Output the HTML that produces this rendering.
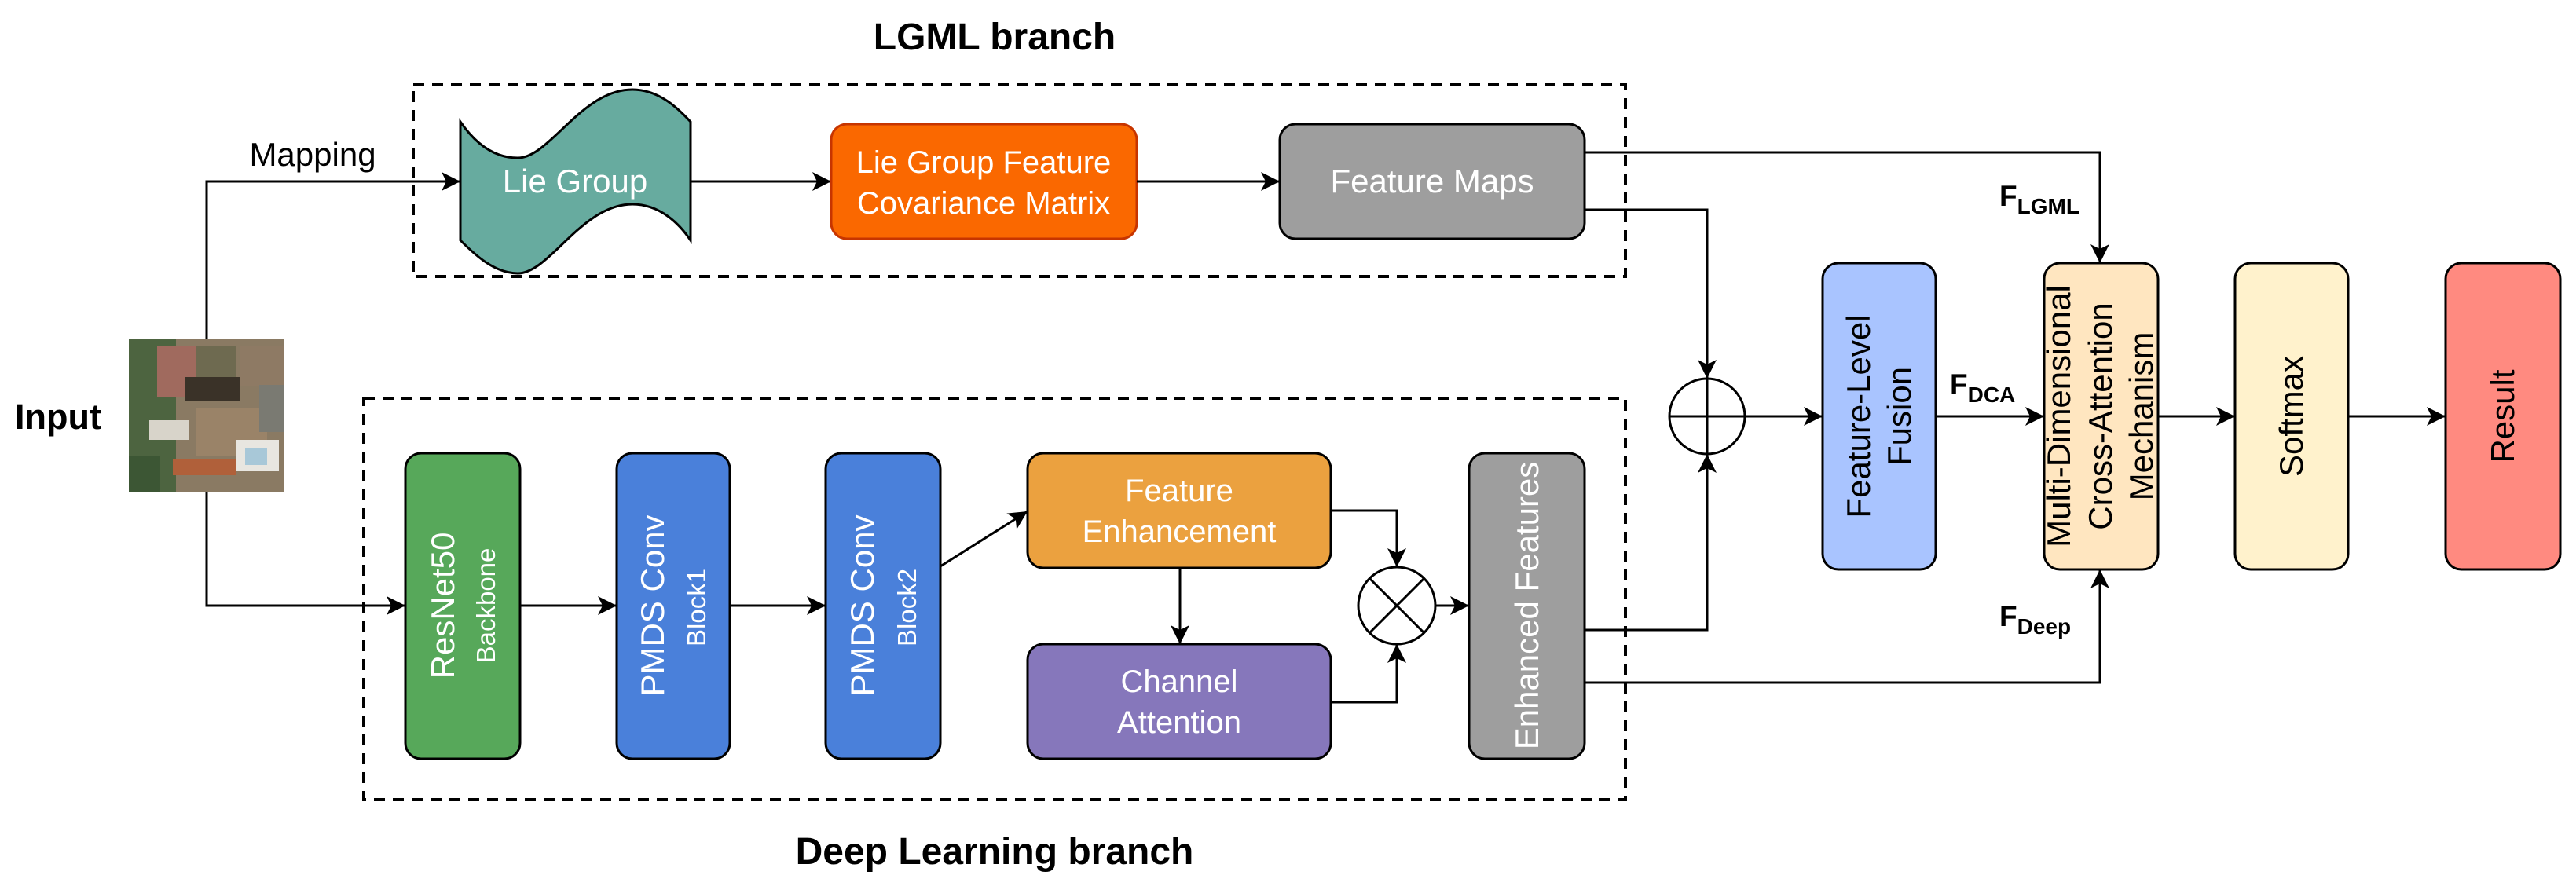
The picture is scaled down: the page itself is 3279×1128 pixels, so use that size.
<!DOCTYPE html>
<html><head><meta charset="utf-8"><style>
html,body{margin:0;padding:0;background:#fff}
svg{display:block}
text{font-family:"Liberation Sans",Arial,sans-serif}
</style></head><body>
<svg width="3279" height="1128" viewBox="0 0 3279 1128" xmlns="http://www.w3.org/2000/svg">
<defs>
<marker id="a" markerUnits="userSpaceOnUse" markerWidth="30" markerHeight="30" refX="24" refY="12" orient="auto">
<path d="M0,0 L24,12 L0,24 L6,12 Z" fill="#000"/>
</marker>
</defs>
<!-- Titles -->
<text x="1266" y="63" font-size="48" font-weight="bold" text-anchor="middle">LGML branch</text>
<text x="1266" y="1100" font-size="48" font-weight="bold" text-anchor="middle">Deep Learning branch</text>
<text x="74" y="546" font-size="45" font-weight="bold" text-anchor="middle">Input</text>
<text x="398" y="211" font-size="42" text-anchor="middle">Mapping</text>

<!-- dashed boxes -->
<rect x="526" y="108" width="1543" height="244" fill="none" stroke="#000" stroke-width="4" stroke-dasharray="14,10"/>
<rect x="463" y="507" width="1606" height="511" fill="none" stroke="#000" stroke-width="4" stroke-dasharray="14,10"/>

<!-- input image -->
<g>
<rect x="164" y="431" width="197" height="196" fill="#8a7a63"/>
<rect x="164" y="431" width="60" height="196" fill="#4d6440"/>
<rect x="200" y="441" width="55" height="65" fill="#a06a5e"/>
<rect x="250" y="441" width="50" height="45" fill="#6e6a50"/>
<rect x="305" y="441" width="56" height="50" fill="#8e7a64"/>
<rect x="235" y="480" width="70" height="30" fill="#3a3228"/>
<rect x="190" y="535" width="50" height="25" fill="#d8d4ca"/>
<rect x="250" y="520" width="90" height="60" fill="#9a8368"/>
<rect x="300" y="560" width="55" height="40" fill="#e8e6e0"/>
<rect x="312" y="570" width="28" height="22" fill="#a8c8d8"/>
<rect x="220" y="585" width="80" height="20" fill="#b0603a"/>
<rect x="164" y="580" width="40" height="47" fill="#3c5634"/>
<rect x="330" y="490" width="31" height="60" fill="#7a7a72"/>
</g>

<path d="M263,431 V231 H586" fill="none" stroke="#000" stroke-width="3" marker-end="url(#a)"/>
<path d="M263,627 V771 H516" fill="none" stroke="#000" stroke-width="3" marker-end="url(#a)"/>

<path d="M586,155 C610,190 635,201 659,201 C700,201 740,114 805,114 C840,114 865,140 879,155 L879,306 C865,285 840,260 805,260 C740,260 700,348 659,348 C630,348 605,325 586,306 Z" fill="#67AB9F" stroke="#000" stroke-width="3"/>
<text x="732" y="245" font-size="42" fill="#fff" text-anchor="middle">Lie Group</text>
<path d="M879,231 H1058" fill="none" stroke="#000" stroke-width="3" marker-end="url(#a)"/>

<rect x="1058" y="158" width="389" height="146" rx="20" fill="#FA6800" stroke="#C73500" stroke-width="3"/>
<text x="1252" y="220" font-size="40" fill="#fff" text-anchor="middle">Lie Group Feature</text>
<text x="1252" y="272" font-size="40" fill="#fff" text-anchor="middle">Covariance Matrix</text>
<path d="M1447,231 H1629" fill="none" stroke="#000" stroke-width="3" marker-end="url(#a)"/>

<rect x="1629" y="158" width="388" height="146" rx="20" fill="#9E9E9E" stroke="#000" stroke-width="3"/>
<text x="1823" y="245" font-size="42" fill="#fff" text-anchor="middle">Feature Maps</text>

<rect x="516" y="577" width="146" height="389" rx="20" fill="#57A85A" stroke="#000" stroke-width="3"/>
<text transform="translate(578,771) rotate(-90)" font-size="42" fill="#fff" text-anchor="middle">ResNet50</text>
<text transform="translate(630,771) rotate(-90)" font-size="33" fill="#fff" text-anchor="middle">Backbone</text>
<path d="M662,771 H785" fill="none" stroke="#000" stroke-width="3" marker-end="url(#a)"/>

<rect x="785" y="577" width="144" height="389" rx="20" fill="#4A80DA" stroke="#000" stroke-width="3"/>
<text transform="translate(845,771) rotate(-90)" font-size="42" fill="#fff" text-anchor="middle">PMDS Conv</text>
<text transform="translate(898,771) rotate(-90)" font-size="33" fill="#fff" text-anchor="start" dx="-52">Block1</text>
<path d="M929,771 H1051" fill="none" stroke="#000" stroke-width="3" marker-end="url(#a)"/>

<rect x="1051" y="577" width="146" height="389" rx="20" fill="#4A80DA" stroke="#000" stroke-width="3"/>
<text transform="translate(1112,771) rotate(-90)" font-size="42" fill="#fff" text-anchor="middle">PMDS Conv</text>
<text transform="translate(1166,771) rotate(-90)" font-size="33" fill="#fff" text-anchor="start" dx="-52">Block2</text>
<path d="M1197,721 L1308,651" fill="none" stroke="#000" stroke-width="3" marker-end="url(#a)"/>

<rect x="1308" y="577" width="386" height="146" rx="20" fill="#EBA13F" stroke="#000" stroke-width="3"/>
<text x="1501" y="638" font-size="40" fill="#fff" text-anchor="middle">Feature</text>
<text x="1501" y="690" font-size="40" fill="#fff" text-anchor="middle">Enhancement</text>
<path d="M1502,723 V820" fill="none" stroke="#000" stroke-width="3" marker-end="url(#a)"/>

<rect x="1308" y="820" width="386" height="146" rx="20" fill="#8677BB" stroke="#000" stroke-width="3"/>
<text x="1501" y="881" font-size="40" fill="#fff" text-anchor="middle">Channel</text>
<text x="1501" y="933" font-size="40" fill="#fff" text-anchor="middle">Attention</text>

<path d="M1694,650 H1778 V722" fill="none" stroke="#000" stroke-width="3" marker-end="url(#a)"/>
<path d="M1694,894 H1778 V820" fill="none" stroke="#000" stroke-width="3" marker-end="url(#a)"/>
<circle cx="1778" cy="771" r="49" fill="#fff" stroke="#000" stroke-width="3"/>
<path d="M1743,736 L1813,806 M1813,736 L1743,806" stroke="#000" stroke-width="3"/>
<path d="M1827,771 H1870" fill="none" stroke="#000" stroke-width="3" marker-end="url(#a)"/>

<rect x="1870" y="577" width="147" height="389" rx="20" fill="#9E9E9E" stroke="#000" stroke-width="3"/>
<text transform="translate(1958,771) rotate(-90)" font-size="42" fill="#fff" text-anchor="middle">Enhanced Features</text>

<path d="M2017,267 H2173 V482" fill="none" stroke="#000" stroke-width="3" marker-end="url(#a)"/>
<path d="M2017,802 H2173 V578" fill="none" stroke="#000" stroke-width="3" marker-end="url(#a)"/>
<circle cx="2173" cy="530" r="48" fill="#fff" stroke="#000" stroke-width="3"/>
<path d="M2125,530 H2221 M2173,482 V578" stroke="#000" stroke-width="3"/>
<path d="M2221,530 H2320" fill="none" stroke="#000" stroke-width="3" marker-end="url(#a)"/>

<rect x="2320" y="335" width="144" height="390" rx="20" fill="#A9C4FF" stroke="#000" stroke-width="3"/>
<text transform="translate(2380,530) rotate(-90)" font-size="42" fill="#000" text-anchor="middle">Feature-Level</text>
<text transform="translate(2432,530) rotate(-90)" font-size="42" fill="#000" text-anchor="middle">Fusion</text>
<path d="M2464,530 H2602" fill="none" stroke="#000" stroke-width="3" marker-end="url(#a)"/>
<text x="2482" y="502" font-size="37" font-weight="bold">F<tspan font-size="28" dy="10">DCA</tspan></text>

<path d="M2017,194 H2673 V335" fill="none" stroke="#000" stroke-width="3" marker-end="url(#a)"/>
<text x="2545" y="262" font-size="37" font-weight="bold">F<tspan font-size="28" dy="10">LGML</tspan></text>
<path d="M2017,869 H2673 V725" fill="none" stroke="#000" stroke-width="3" marker-end="url(#a)"/>
<text x="2545" y="797" font-size="37" font-weight="bold">F<tspan font-size="28" dy="10">Deep</tspan></text>
<rect x="2602" y="335" width="145" height="390" rx="20" fill="#FFE6C0" stroke="#000" stroke-width="3"/>
<text transform="translate(2635,530) rotate(-90)" font-size="42" fill="#000" text-anchor="middle">Multi-Dimensional</text>
<text transform="translate(2688,530) rotate(-90)" font-size="42" fill="#000" text-anchor="middle">Cross-Attention</text>
<text transform="translate(2740,530) rotate(-90)" font-size="42" fill="#000" text-anchor="middle">Mechanism</text>
<path d="M2747,530 H2845" fill="none" stroke="#000" stroke-width="3" marker-end="url(#a)"/>

<rect x="2845" y="335" width="144" height="390" rx="20" fill="#FFF2CC" stroke="#000" stroke-width="3"/>
<text transform="translate(2931,530) rotate(-90)" font-size="42" fill="#000" text-anchor="middle">Softmax</text>
<path d="M2989,530 H3113" fill="none" stroke="#000" stroke-width="3" marker-end="url(#a)"/>

<rect x="3113" y="335" width="146" height="390" rx="20" fill="#FF8A80" stroke="#000" stroke-width="3"/>
<text transform="translate(3200,530) rotate(-90)" font-size="42" fill="#000" text-anchor="middle">Result</text>
</svg>
</body></html>
